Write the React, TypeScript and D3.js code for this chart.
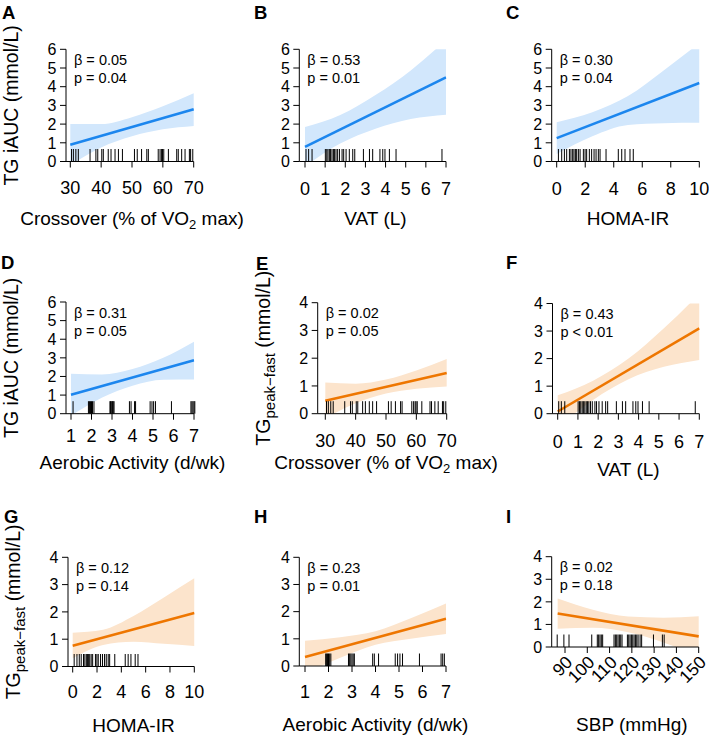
import React from "react";
import * as d3 from "d3";

const FONT = "'Liberation Sans', Arial, Helvetica, sans-serif";
const BLUE = "#1c86ee";
const BLUE_BAND = "#d2e7fc";
const ORANGE = "#ee7600";
const ORANGE_BAND = "#fce4cc";

// rug values, one tick per participant
const crossoverRug = [30.4, 31, 31.8, 32.6, 36.4, 38.3, 38.9, 40.2, 40.7, 42.3, 43.2, 44.5, 45.6, 46.9, 50.8, 51.7, 53.1, 54.8, 55.3, 58.5, 59.1, 59.6, 59.9, 60.3, 61.8, 64.5, 65, 66.1, 67.2, 68.6, 69, 69.7];
const vatRug = [0.05, 0.18, 0.35, 1.01, 1.08, 1.14, 1.21, 1.27, 1.34, 1.41, 1.47, 1.54, 1.62, 1.71, 1.84, 1.92, 2.04, 2.2, 2.37, 2.47, 2.9, 3.2, 3.36, 3.72, 3.86, 3.97, 4.19, 4.52, 6.8];
const homaRug = [0.12, 0.35, 0.54, 0.7, 0.89, 1.0, 1.12, 1.21, 1.31, 1.4, 1.52, 1.64, 1.87, 1.99, 2.1, 2.29, 2.45, 2.62, 2.76, 2.92, 3.04, 3.46, 4.32, 4.56, 4.79, 5.14, 5.37];
const aerobicRugD = [1.1, 1.85, 1.9, 1.95, 2.0, 2.05, 2.12, 2.9, 2.93, 2.96, 3.0, 3.03, 3.06, 3.1, 3.85, 3.93, 4.1, 4.15, 4.86, 4.95, 5.03, 5.12, 5.9, 6.85, 6.9, 6.95, 7.0, 7.04];
const aerobicRugH = [1.88, 1.92, 1.96, 2.0, 2.05, 2.1, 2.85, 2.9, 2.95, 3.0, 3.05, 3.1, 3.88, 3.95, 4.13, 4.84, 4.94, 5.04, 5.15, 5.87, 6.79, 6.86, 6.93];
const sbpRug = [86.5, 89.5, 91.8, 102, 104.5, 105.1, 105.7, 106.3, 106.9, 112, 112.6, 113.2, 113.8, 114.4, 115, 115.6, 118, 118.6, 119.2, 119.8, 120.4, 121, 121.6, 122.2, 122.8, 123.7, 124.4, 129.7, 133.7, 134.5];

// axis ticks
const iaucTicks = [0, 1, 2, 3, 4, 5, 6];
const peakTicks = [0, 1, 2, 3, 4];
const crossoverTicks = [30, 40, 50, 60, 70];
const vatTicks = [0, 1, 2, 3, 4, 5, 6, 7];
const homaTicks = [0, 2, 4, 6, 8, 10];
const aerobicTicks = [1, 2, 3, 4, 5, 6, 7];
const sbpTicks = [90, 100, 110, 120, 130, 140, 150];

const letters = ["A", "B", "C", "D", "E", "F", "G", "H", "I"];
const betas = ["0.05", "0.53", "0.30", "0.31", "0.02", "0.43", "0.12", "0.23", "0.02"];
const pvals = ["= 0.04", "= 0.01", "= 0.04", "= 0.05", "= 0.05", "< 0.01", "= 0.14", "= 0.01", "= 0.18"];

// fitted lines: [x start, y start, x end, y end]
const fits = [
  [30, 0.9, 70, 2.8],
  [0, 0.78, 7, 4.5],
  [0, 1.25, 10, 4.2],
  [1, 1.02, 7, 2.87],
  [30, 0.47, 70, 1.47],
  [0, 0.08, 7, 3.1],
  [0, 0.76, 10, 1.96],
  [1, 0.33, 7, 1.74],
  [86.7, 1.48, 150, 0.47],
];

// confidence bands read at five x positions
const bandX = [
  [30, 40, 50, 60, 70],
  [0, 1.75, 3.5, 5.25, 7],
  [0, 2.5, 5, 7.5, 10],
  [1, 2.5, 4, 5.5, 7],
  [30, 40, 50, 60, 70],
  [0, 1.75, 3.5, 5.25, 7],
  [0, 2.5, 5, 7.5, 10],
  [1, 2.5, 4, 5.5, 7],
  [86.7, 102.5, 118.3, 134.2, 150],
];
const bandHi = [
  [2.0, 2.0, 2.37, 2.95, 3.65],
  [1.84, 2.48, 3.55, 4.87, 6.5],
  [2.1, 2.63, 3.5, 4.87, 6.33],
  [2.14, 2.1, 2.4, 3.0, 3.87],
  [1.12, 1.08, 1.23, 1.56, 1.97],
  [0.67, 1.2, 2.0, 3.1, 4.35],
  [1.24, 1.35, 1.85, 2.53, 3.23],
  [0.93, 1.06, 1.28, 1.76, 2.3],
  [2.15, 1.65, 1.35, 1.3, 1.36],
];
const bandLo = [
  [-0.2, 0.75, 1.35, 1.72, 1.9],
  [-0.26, 0.96, 1.75, 2.27, 2.5],
  [0.4, 1.35, 1.95, 2.05, 2.07],
  [-0.1, 0.86, 1.5, 1.82, 1.84],
  [-0.16, 0.38, 0.73, 0.9, 0.98],
  [-0.5, 0.5, 1.25, 1.7, 1.95],
  [0.3, 0.79, 0.91, 0.83, 0.75],
  [-0.27, 0.3, 0.78, 1.0, 1.18],
  [0.81, 0.85, 0.65, 0.2, -0.42],
];

const rugs = [crossoverRug, vatRug, homaRug, aerobicRugD, crossoverRug, vatRug, homaRug, aerobicRugH, sbpRug];
const xTicks = [crossoverTicks, vatTicks, homaTicks, aerobicTicks, crossoverTicks, vatTicks, homaTicks, aerobicTicks, sbpTicks];

// pixel layout of each panel
const layout = [
  { ax: 66, x0: 70.3, x1: 193.7, yb: 161.5, yt: 49.3, tb: 194.3, ttl: 225, lx: 2, ly: 19 },
  { ax: 299.3, x0: 305, x1: 446, yb: 161.5, yt: 49.3, tb: 195, ttl: 224.5, lx: 254, ly: 19 },
  { ax: 551.7, x0: 556.7, x1: 699.3, yb: 161.5, yt: 49.3, tb: 195, ttl: 224.5, lx: 506, ly: 19 },
  { ax: 66, x0: 71, x1: 194, yb: 413.7, yt: 302, tb: 442, ttl: 469.3, lx: 1, ly: 269 },
  { ax: 317.7, x0: 325.3, x1: 446.7, yb: 413.7, yt: 302.7, tb: 446.7, ttl: 469.3, lx: 256, ly: 270 },
  { ax: 552.5, x0: 557.7, x1: 699.3, yb: 413.7, yt: 303.5, tb: 447.7, ttl: 476, lx: 506, ly: 269 },
  { ax: 68, x0: 72.7, x1: 194.3, yb: 666.5, yt: 557.3, tb: 698.3, ttl: 731.5, lx: 4, ly: 523 },
  { ax: 299.3, x0: 305, x1: 446, yb: 666, yt: 557.3, tb: 698.3, ttl: 730.7, lx: 254, ly: 523 },
  { ax: 551.7, x0: 565, x1: 698.7, yb: 647, yt: 556.7, tb: 0, ttl: 730.7, lx: 506, ly: 523 },
];

const crossoverTitle = (
  <>
    Crossover (% of VO<tspan fontSize={13} dy={4}>2</tspan>
    <tspan dy={-4}> max)</tspan>
  </>
);
const xTitles = [
  crossoverTitle, "VAT (L)", "HOMA-IR", "Aerobic Activity (d/wk)",
  crossoverTitle, "VAT (L)", "HOMA-IR", "Aerobic Activity (d/wk)", "SBP (mmHg)",
];

const iaucLabel = <>TG iAUC (mmol/L)</>;
const peakLabel = (
  <>
    TG<tspan fontSize={15} dy={5}>peak−fast</tspan>
    <tspan dy={-5}> (mmol/L)</tspan>
  </>
);
const yTitles = [iaucLabel, null, null, iaucLabel, peakLabel, null, peakLabel, null, null];

function Panel({ i }: { i: number }) {
  const L = layout[i];
  const xt = xTicks[i];
  const yt = i < 4 ? iaucTicks : peakTicks;
  const x = d3.scaleLinear().domain([xt[0], xt[xt.length - 1]]).range([L.x0, L.x1]);
  const y = d3.scaleLinear().domain([0, yt[yt.length - 1]]).range([L.yb, L.yt]);
  const color = i < 4 ? BLUE : ORANGE;
  const fill = i < 4 ? BLUE_BAND : ORANGE_BAND;
  const right = L.x1 + (L.x0 - L.ax);

  const idx = d3.range(bandX[i].length);
  const area = d3
    .area<number>()
    .x((k) => x(bandX[i][k]))
    .y0((k) => y(bandLo[i][k]))
    .y1((k) => y(bandHi[i][k]))
    .curve(d3.curveMonotoneX);
  const f = fits[i];
  const line = d3
    .line<number[]>()
    .x((d) => x(d[0]))
    .y((d) => y(d[1]));

  const clipId = `clip-${i}`;
  return (
    <g>
      <clipPath id={clipId}>
        <rect x={L.ax} y={L.yt} width={L.x1 - L.ax + 0.5} height={L.yb - L.yt} />
      </clipPath>
      <g clipPath={`url(#${clipId})`}>
        <path d={area(idx) || ""} fill={fill} />
        <path d={line([[f[0], f[1]], [f[2], f[3]]]) || ""} stroke={color} strokeWidth={2.6} fill="none" />
      </g>
      {/* rug */}
      {rugs[i].map((v, k) => (
        <line key={k} x1={x(v)} x2={x(v)} y1={L.yb} y2={L.yb - 12.5} stroke="#000" strokeWidth={1} />
      ))}
      {/* axes */}
      <line x1={L.ax} x2={L.ax} y1={L.yb} y2={L.yt} stroke="#000" strokeWidth={1} />
      <line x1={L.ax} x2={L.x1} y1={L.yb} y2={L.yb} stroke="#000" strokeWidth={1} />
      {yt.map((t) => (
        <g key={t}>
          <line x1={L.ax - 6} x2={L.ax} y1={y(t)} y2={y(t)} stroke="#000" />
          <text x={L.ax - 9.5} y={y(t)} dy="0.36em" textAnchor="end" fontSize={16}>
            {t}
          </text>
        </g>
      ))}
      {xt.map((t) => (
        <g key={t}>
          <line x1={x(t)} x2={x(t)} y1={L.yb} y2={L.yb + 6} stroke="#000" />
          {i === 8 ? (
            <text
              transform={`translate(${x(t) + 4},${L.yb + 12}) rotate(-45)`}
              dy="0.36em"
              textAnchor="end"
              fontSize={17.5}
            >
              {t}
            </text>
          ) : (
            <text x={x(t)} y={L.tb} textAnchor="middle" fontSize={18}>
              {t}
            </text>
          )}
        </g>
      ))}
      {/* annotation */}
      <text x={L.ax + 8} y={L.yt + 15.5} fontSize={14.5}>
        β = {betas[i]}
      </text>
      <text x={L.ax + 8} y={L.yt + 33.5} fontSize={14.5}>
        p {pvals[i]}
      </text>
      {/* titles */}
      <text x={(L.ax + right) / 2} y={L.ttl} textAnchor="middle" fontSize={19}>
        {xTitles[i]}
      </text>
      {yTitles[i] && (
        <text
          transform={`translate(${L.ax - 48},${(L.yt + L.yb) / 2}) rotate(-90)`}
          textAnchor="middle"
          fontSize={19.5}
        >
          {yTitles[i]}
        </text>
      )}
      <text x={L.lx} y={L.ly} fontSize={18.5} fontWeight="bold">
        {letters[i]}
      </text>
    </g>
  );
}

export default function App() {
  return (
    <svg
      width={709}
      height={736}
      style={{ position: "absolute", left: 0, top: 0, background: "#fff" }}
      fontFamily={FONT}
    >
      <rect width={709} height={736} fill="#fff" />
      {letters.map((_, i) => (
        <Panel key={i} i={i} />
      ))}
    </svg>
  );
}
